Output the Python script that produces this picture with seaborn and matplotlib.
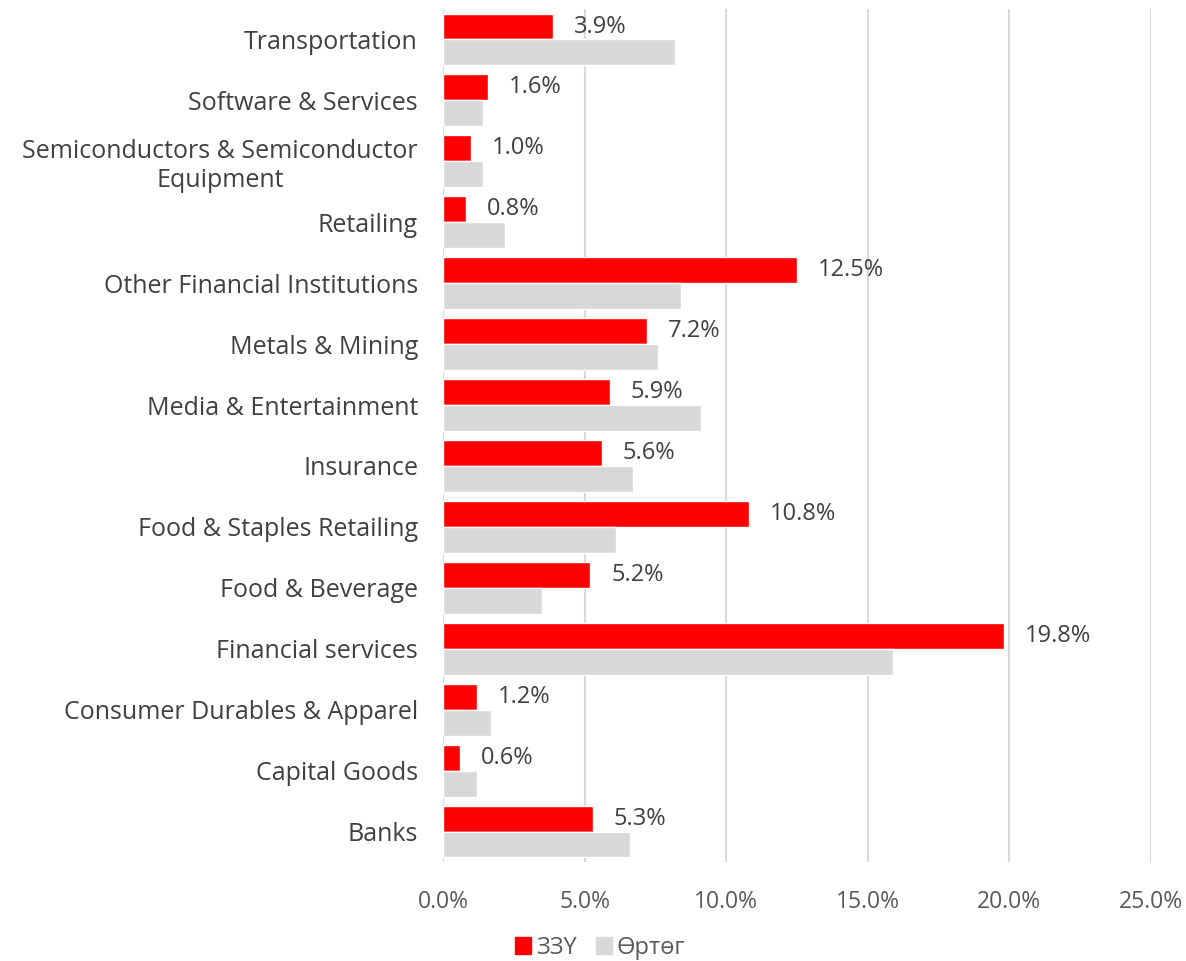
import pandas as pd
import matplotlib.pyplot as plt
import seaborn as sns
from matplotlib.patches import Patch

# categories top -> bottom as shown
sectors = ['Transportation', 'Software & Services',
           'Semiconductors & Semiconductor\nEquipment', 'Retailing',
           'Other Financial Institutions', 'Metals & Mining',
           'Media & Entertainment', 'Insurance', 'Food & Staples Retailing',
           'Food & Beverage', 'Financial services',
           'Consumer Durables & Apparel', 'Capital Goods', 'Banks']
zzu = [3.9, 1.6, 1.0, 0.8, 12.5, 7.2, 5.9, 5.6, 10.8, 5.2, 19.8, 1.2, 0.6, 5.3]
urtug = [8.2, 1.4, 1.4, 2.2, 8.4, 7.6, 9.1, 6.7, 6.1, 3.5, 15.9, 1.7, 1.2, 6.6]
series_names = ['ЗЗҮ', 'Өртөг']
ticks = [0, 5, 10, 15, 20, 25]

df = pd.DataFrame({'sector': sectors * 2,
                   'value': zzu + urtug,
                   'series': [series_names[0]] * len(sectors) + [series_names[1]] * len(sectors)})

sns.set_theme(style='white')
plt.rcParams['font.family'] = ['Open Sans', 'DejaVu Sans']

fig = plt.figure(figsize=(11.86, 9.61), dpi=100)
ax = fig.add_axes([443 / 1186, 99 / 961, (1151 - 443) / 1186, (952 - 99) / 961])

sns.barplot(data=df, y='sector', x='value', hue='series', orient='h',
            palette=['#ff0000', '#d9d8d9'], width=0.85, saturation=1,
            ax=ax, legend=False)

ax.set_xlim(0, 25)
ax.set_xticks(ticks)
ax.set_xticklabels([f'{t:.1f}%' for t in ticks], fontsize=16.5, color='#595959')
ax.tick_params(axis='x', pad=20, length=0)
ax.tick_params(axis='y', length=0, pad=18)
for lbl in ax.get_yticklabels():
    lbl.set_fontsize(18)
    lbl.set_color('#404040')
    lbl.set_multialignment('center')
ax.set_xlabel('')
ax.set_ylabel('')
ax.grid(axis='x', color='#d9d9d9', linewidth=1.5)
ax.set_axisbelow(True)
for s in ax.spines.values():
    s.set_visible(False)

# labels only on the red series
red = ax.containers[0]
ax.bar_label(red, labels=[f'{v:.1f}%' for v in zzu], padding=15,
             fontsize=17, color='#404040')

handles = [Patch(color='#ff0000'), Patch(color='#d9d8d9')]
fig.legend(handles, series_names, loc='center', bbox_to_anchor=(600 / 1186, 1 - 948 / 961),
           ncol=2, frameon=False, fontsize=17, handlelength=0.7, handleheight=0.7,
           handletextpad=0.2, columnspacing=0.8, labelcolor='#595959')

fig.savefig('out.png', dpi=100)
